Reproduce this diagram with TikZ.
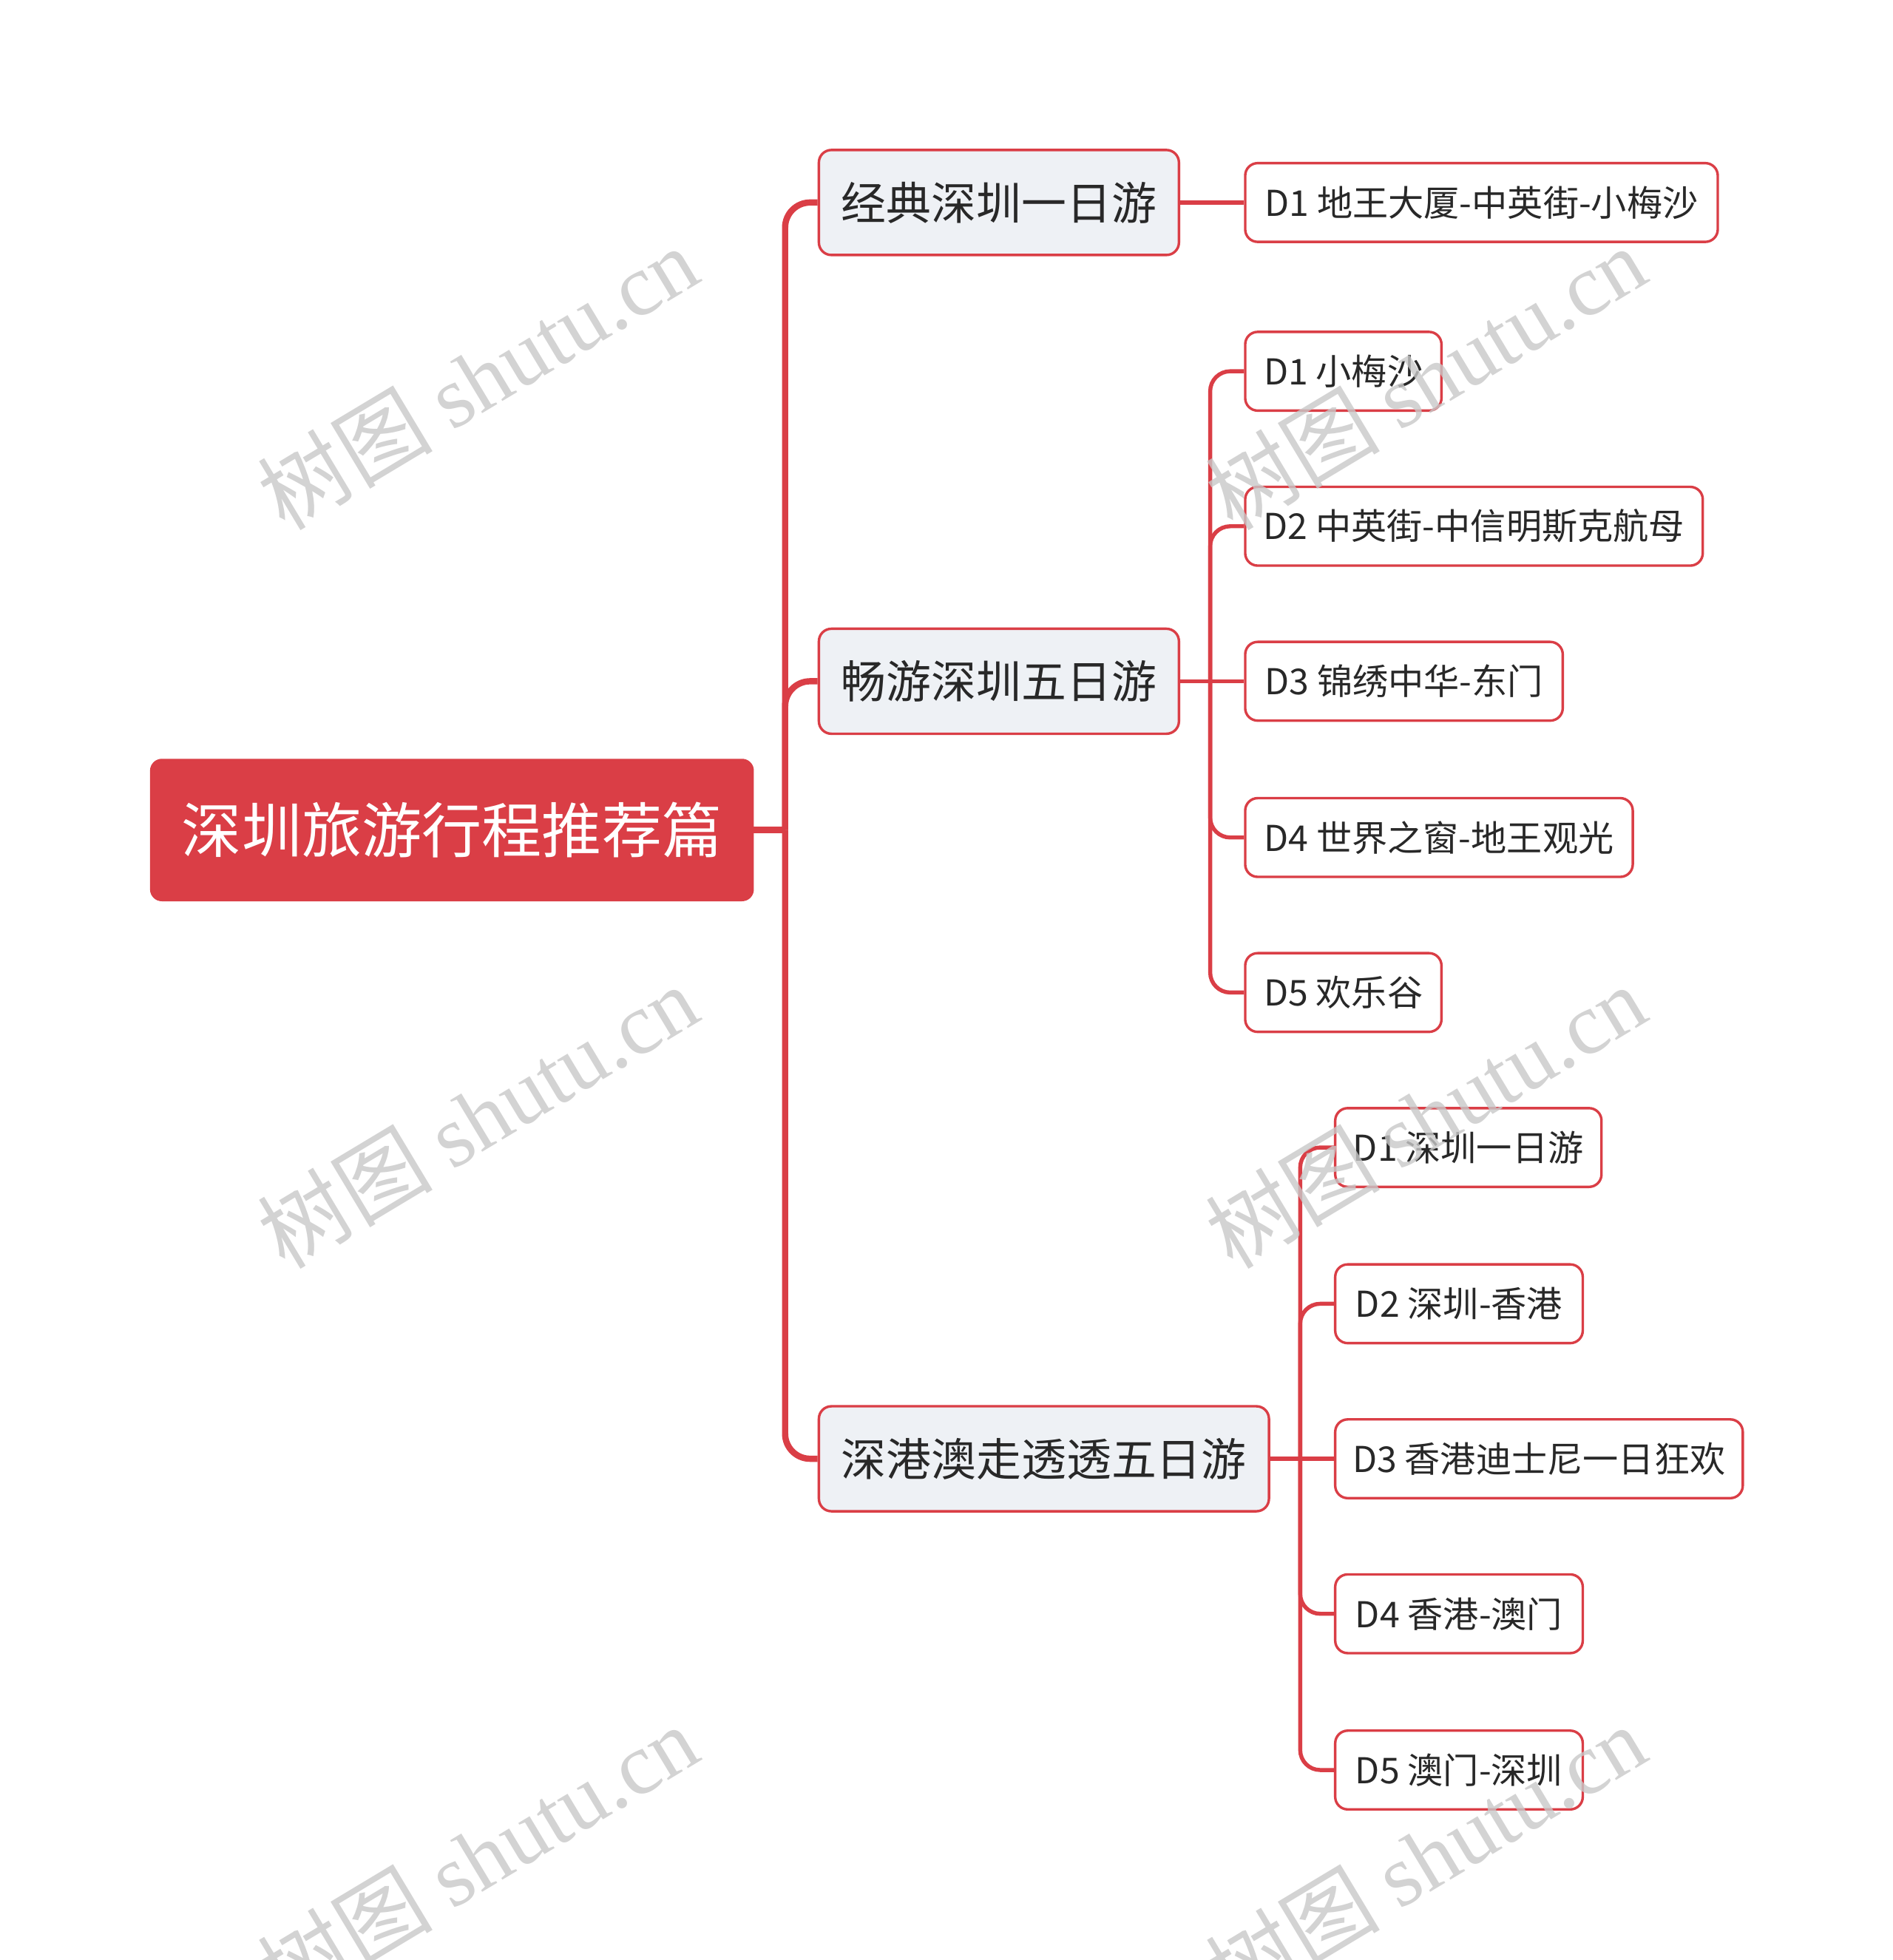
\documentclass[tikz,border=0pt]{standalone}
\usepackage{fontspec}
\setmainfont{Noto Sans CJK SC}
\newfontfamily\wmserif{Liberation Serif}
\usetikzlibrary{backgrounds}
\definecolor{mred}{RGB}{218,62,70}
\definecolor{lgfill}{RGB}{238,241,245}
\definecolor{txt}{RGB}{40,40,40}
\definecolor{wmgray}{RGB}{200,200,200}
\begin{document}
\begin{tikzpicture}[x=1pt,y=-1pt,
  rootbox/.style={draw=mred,fill=mred,rounded corners=9pt,minimum height=113pt,inner sep=0pt,
    text=white,font=\fontsize{48}{56}\selectfont,anchor=west,line width=1pt},
  lonebox/.style={draw=mred,fill=lgfill,rounded corners=10pt,minimum height=84pt,inner sep=0pt,
    text=txt,font=\fontsize{36}{42}\selectfont,anchor=west,line width=2pt},
  ltwobox/.style={draw=mred,fill=white,rounded corners=10pt,minimum height=63pt,inner sep=0pt,
    text=txt,font=\fontsize{28.5}{34}\selectfont,anchor=west,line width=2pt},
  mainline/.style={draw=mred,line width=5pt},
  subline/.style={draw=mred,line width=3.2pt},
  wm/.style={text=wmgray,opacity=0.8,font=\fontsize{70}{80}\selectfont,rotate=31,inner sep=0pt}]
\useasboundingbox (0,0) rectangle (1514,1568);

% root
\node[rootbox,minimum width=482pt] (root) at (120,664) {深圳旅游行程推荐篇};
% level 1
\node[lonebox,minimum width=288pt] (a) at (654,162) {经典深圳一日游};
\node[lonebox,minimum width=288pt] (b) at (654,545) {畅游深圳五日游};
\node[lonebox,minimum width=360pt] (c) at (654,1167) {深港澳走透透五日游};
% level 2
\node[ltwobox,minimum width=378pt] (a1) at (995,162) {D1 地王大厦-中英街-小梅沙};
\node[ltwobox,minimum width=157pt] (b1) at (995,297) {D1 小梅沙};
\node[ltwobox,minimum width=366pt] (b2) at (995,421) {D2 中英街-中信明斯克航母};
\node[ltwobox,minimum width=254pt] (b3) at (995,545) {D3 锦绣中华-东门};
\node[ltwobox,minimum width=310pt] (b4) at (995,670) {D4 世界之窗-地王观光};
\node[ltwobox,minimum width=157pt] (b5) at (995,794) {D5 欢乐谷};
\node[ltwobox,minimum width=213pt] (c1) at (1067,918) {D1 深圳一日游};
\node[ltwobox,minimum width=198pt] (c2) at (1067,1043) {D2 深圳-香港};
\node[ltwobox,minimum width=326pt] (c3) at (1067,1167) {D3 香港迪士尼一日狂欢};
\node[ltwobox,minimum width=198pt] (c4) at (1067,1291) {D4 香港-澳门};
\node[ltwobox,minimum width=198pt] (c5) at (1067,1416) {D5 澳门-深圳};

\coordinate (j0) at (628,664);
\coordinate (jb) at (968,545);
\coordinate (jc) at (1040,1167);

\begin{scope}[on background layer]
\fill[white] (0,0) rectangle (1514,1568);
\draw[mainline] (root.east) -- (j0);
\draw[mainline,rounded corners=20pt] (j0) |- (a.west);
\draw[mainline,rounded corners=20pt] (j0) |- (b.west);
\draw[mainline,rounded corners=20pt] (j0) |- (c.west);
\draw[subline] (a.east) -- (a1.west);
\draw[subline] (b.east) -- (jb);
\draw[subline,rounded corners=16pt] (jb) |- (b1.west);
\draw[subline,rounded corners=16pt] (jb) |- (b2.west);
\draw[subline] (jb) -- (b3.west);
\draw[subline,rounded corners=16pt] (jb) |- (b4.west);
\draw[subline,rounded corners=16pt] (jb) |- (b5.west);
\draw[subline] (c.east) -- (jc);
\draw[subline,rounded corners=16pt] (jc) |- (c1.west);
\draw[subline,rounded corners=16pt] (jc) |- (c2.west);
\draw[subline] (jc) -- (c3.west);
\draw[subline,rounded corners=16pt] (jc) |- (c4.west);
\draw[subline,rounded corners=16pt] (jc) |- (c5.west);
\end{scope}

% watermarks
\node[wm] (w1) at (382,302) {树图 {\wmserif shutu.cn}};
\node[wm] (w2) at (382,893) {树图 {\wmserif shutu.cn}};
\node[wm] (w3) at (382,1485) {树图 {\wmserif shutu.cn}};
\node[wm] (w4) at (1140,302) {树图 {\wmserif shutu.cn}};
\node[wm] (w5) at (1140,893) {树图 {\wmserif shutu.cn}};
\node[wm] (w6) at (1140,1485) {树图 {\wmserif shutu.cn}};
\end{tikzpicture}
\end{document}
